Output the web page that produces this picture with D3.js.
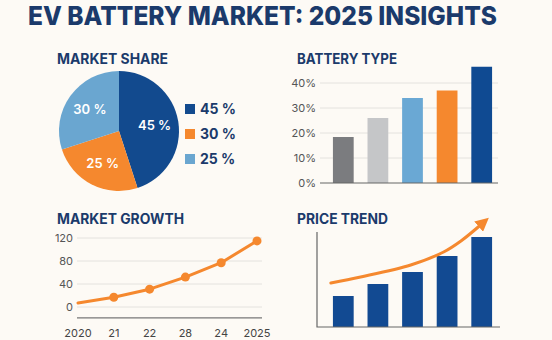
<!DOCTYPE html>
<html>
<head>
<meta charset="utf-8">
<script src="https://cdn.jsdelivr.net/npm/d3@7"></script>
<style>
  body { margin: 0; background: #fdfaf5; }
  svg { display: block; font-family: Inter, "Open Sans", sans-serif; }
</style>
</head>
<body>
<div id="chart"></div>
<script>
// chart data
var shareLabels = ["45 %", "25 %", "30 %"];
var shareValues = [45, 25, 30];
var legendLabels = ["45 %", "30 %", "25 %"];

var batteryValues = [18.4, 26, 34, 37, 46.5];
var batteryTicks = [0, 10, 20, 30, 40];

var growthYears = ["2020", "21", "22", "28", "24", "2025"];
var growthValues = [7, 17, 31, 52, 77, 115];
var growthTicks = [0, 40, 80, 120];

var priceValues = [31, 43, 55, 71, 90];
// trend arrow: [bar position, value]
var trendPoints = [[-0.36, 44], [0.5, 50], [1.95, 62], [2.9, 75], [3.4, 86], [4.0, 103]];

function init() {
    var w = 552, h = 340;
    var navy = "#1b3a6b";
    var dark = "#124a8e", orange = "#f5882e", light = "#6aa6d0";

    var svg = d3.select("#chart").append("svg")
        .attr("width", w)
        .attr("height", h);

    svg.append("rect").attr("width", w).attr("height", h).attr("fill", "#fdfaf5");

    // main title
    svg.append("text")
        .attr("x", 28).attr("y", 25)
        .attr("fill", navy)
        .attr("textLength", 469)
        .attr("lengthAdjust", "spacingAndGlyphs")
        .style("font-size", "26px").style("font-weight", 800)
        .text("EV BATTERY MARKET: 2025 INSIGHTS");

    function panelTitle(x, y, txt, len) {
        svg.append("text")
            .attr("x", x).attr("y", y)
            .attr("fill", navy)
            .attr("textLength", len)
            .attr("lengthAdjust", "spacingAndGlyphs")
            .style("font-size", "14px").style("font-weight", 700)
            .text(txt);
    }
    panelTitle(57, 64, "MARKET SHARE", 111);
    panelTitle(297, 64, "BATTERY TYPE", 100);
    panelTitle(57, 224, "MARKET GROWTH", 127);
    panelTitle(297, 224, "PRICE TREND", 91);

    // ---- Market share pie
    var pieG = svg.append("g").attr("transform", "translate(119,131)");
    var pie = d3.pie().sort(null);
    var arc = d3.arc().innerRadius(0).outerRadius(60);
    var pieColors = [dark, orange, light];
    var arcs = pie(shareValues);
    pieG.selectAll("path").data(arcs).enter().append("path")
        .attr("d", arc)
        .attr("fill", function(d, i) { return pieColors[i]; });
    var labelArc = d3.arc().innerRadius(36).outerRadius(36);
    pieG.selectAll("text").data(arcs).enter().append("text")
        .attr("transform", function(d) { return "translate(" + labelArc.centroid(d) + ")"; })
        .attr("text-anchor", "middle")
        .attr("dy", "0.35em")
        .attr("fill", "#fff")
        .style("font-size", "13px").style("font-weight", 600)
        .text(function(d, i) { return shareLabels[i]; });

    var legColors = [dark, orange, light];
    var legY = d3.scalePoint().domain(legendLabels).range([109, 159]);
    var leg = svg.selectAll(".leg").data(legendLabels).enter().append("g")
        .attr("transform", function(d) { return "translate(185," + legY(d) + ")"; });
    leg.append("rect").attr("x", 0).attr("y", -5).attr("width", 10).attr("height", 10)
        .attr("fill", function(d, i) { return legColors[i]; });
    leg.append("text").attr("x", 15).attr("dy", "0.36em")
        .attr("fill", navy)
        .style("font-size", "14px").style("font-weight", 700)
        .text(function(d) { return d; });

    // ---- Battery type bars
    var bx = d3.scaleBand().domain(d3.range(batteryValues.length))
        .range([326, 499]).paddingInner(0.4).paddingOuter(0.2);
    var by = d3.scaleLinear().domain([0, 40]).range([183, 83]);
    var batColors = ["#7b7c7f", "#c5c6c8", "#6aa8d4", "#f5882e", "#0f4a92"];

    svg.append("g").selectAll("line").data(batteryTicks.slice(1)).enter().append("line")
        .attr("x1", 320).attr("x2", 498)
        .attr("y1", function(d) { return by(d); }).attr("y2", function(d) { return by(d); })
        .attr("stroke", "#e4e2de").attr("stroke-width", 1);
    svg.append("g").selectAll("text").data(batteryTicks).enter().append("text")
        .attr("x", 316).attr("y", function(d) { return by(d); })
        .attr("dy", "0.35em").attr("text-anchor", "end")
        .attr("fill", "#555").style("font-size", "11px")
        .text(function(d) { return d + "%"; });
    svg.append("g").selectAll("rect").data(batteryValues).enter().append("rect")
        .attr("x", function(d, i) { return bx(i); })
        .attr("width", bx.bandwidth())
        .attr("y", function(d) { return by(d); })
        .attr("height", function(d) { return by(0) - by(d); })
        .attr("fill", function(d, i) { return batColors[i]; });
    svg.append("line").attr("x1", 320).attr("x2", 498)
        .attr("y1", by(0)).attr("y2", by(0))
        .attr("stroke", "#666").attr("stroke-width", 1.2);

    // ---- Market growth line
    var gx = d3.scalePoint().domain(growthYears).range([78, 257]);
    var gy = d3.scaleLinear().domain([0, 120]).range([307, 238]);
    svg.append("g").selectAll("line").data(growthTicks).enter().append("line")
        .attr("x1", 77).attr("x2", 262)
        .attr("y1", function(d) { return gy(d); }).attr("y2", function(d) { return gy(d); })
        .attr("stroke", "#e4e2de");
    svg.append("g").selectAll("text").data(growthTicks).enter().append("text")
        .attr("x", 73).attr("y", function(d) { return gy(d); })
        .attr("dy", "0.35em").attr("text-anchor", "end")
        .attr("fill", "#555").style("font-size", "11px")
        .text(function(d) { return d; });
    svg.append("line").attr("x1", 77).attr("x2", 262)
        .attr("y1", gy(-19)).attr("y2", gy(-19))
        .attr("stroke", "#777").attr("stroke-width", 1.2);
    svg.append("g").selectAll("text").data(growthYears).enter().append("text")
        .attr("x", function(d) { return gx(d); }).attr("y", 337)
        .attr("text-anchor", "middle")
        .attr("fill", "#444").style("font-size", "11px")
        .text(function(d) { return d; });
    var line = d3.line()
        .x(function(d, i) { return gx(growthYears[i]); })
        .y(function(d) { return gy(d); });
    svg.append("path").datum(growthValues)
        .attr("d", line).attr("fill", "none")
        .attr("stroke", orange).attr("stroke-width", 3)
        .attr("stroke-linejoin", "round").attr("stroke-linecap", "round");
    svg.append("g").selectAll("circle").data(growthValues.slice(1)).enter().append("circle")
        .attr("cx", function(d, i) { return gx(growthYears[i + 1]); })
        .attr("cy", function(d) { return gy(d); })
        .attr("r", 4.5).attr("fill", orange);

    // ---- Price trend
    var px = d3.scaleBand().domain(d3.range(priceValues.length))
        .range([326, 499]).paddingInner(0.4).paddingOuter(0.2);
    var py = d3.scaleLinear().domain([0, 100]).range([327, 227]);
    svg.append("g").selectAll("rect").data(priceValues).enter().append("rect")
        .attr("x", function(d, i) { return px(i); })
        .attr("width", px.bandwidth())
        .attr("y", function(d) { return py(d); })
        .attr("height", function(d) { return py(0) - py(d); })
        .attr("fill", "#124a92");
    svg.append("path")
        .attr("d", "M317," + py(95) + "V" + py(0) + "H500")
        .attr("fill", "none").attr("stroke", "#666").attr("stroke-width", 1.2);

    var tx = d3.scaleLinear().domain([0, 4])
        .range([px(0) + px.bandwidth() / 2, px(4) + px.bandwidth() / 2]);
    svg.append("defs").append("marker")
        .attr("id", "head").attr("viewBox", "0 0 10 10")
        .attr("refX", 3).attr("refY", 5)
        .attr("markerWidth", 4.5).attr("markerHeight", 4.5)
        .attr("orient", "auto")
        .append("path").attr("d", "M0,0L10,5L0,10Z").attr("fill", orange);
    var trend = d3.line().curve(d3.curveCatmullRom)
        .x(function(d) { return tx(d[0]); })
        .y(function(d) { return py(d[1]); });
    svg.append("path").datum(trendPoints)
        .attr("d", trend).attr("fill", "none")
        .attr("stroke", orange).attr("stroke-width", 3)
        .attr("stroke-linecap", "round")
        .attr("marker-end", "url(#head)");
}

window.onload = init;
</script>
</body>
</html>
